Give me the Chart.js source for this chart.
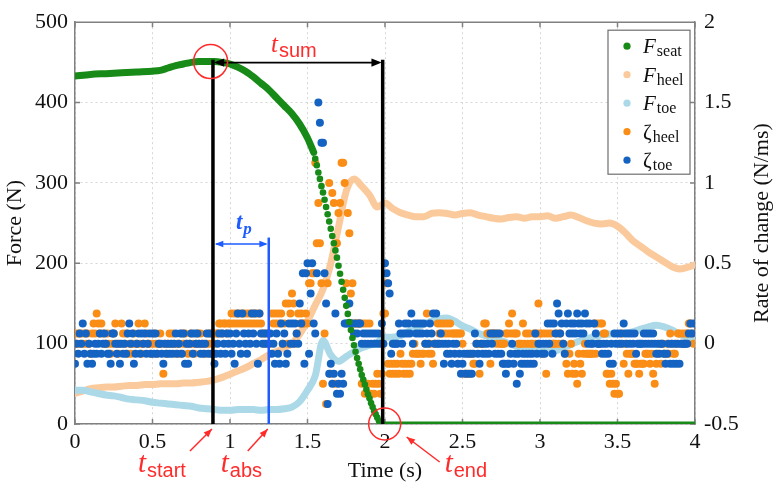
<!DOCTYPE html>
<html>
<head>
<meta charset="utf-8">
<script src="https://cdn.jsdelivr.net/npm/chart.js@4.4.0/dist/chart.umd.min.js"></script>
<style>
  html, body { margin: 0; padding: 0; background: #fff; }
  #wrap { width: 773px; height: 490px; }
</style>
</head>
<body>
<div id="wrap"><canvas id="chart" width="773" height="490"></canvas></div>
<script>
// ---- data ----
// F_seat: smooth part drawn as a thick line, steep part as single samples, then flat at 0
const seatCurveT = [0, 0.1, 0.2, 0.3, 0.4, 0.5, 0.55, 0.6, 0.65, 0.7, 0.75, 0.8, 0.85, 0.9, 0.95, 1.0, 1.05, 1.1, 1.15, 1.2, 1.25, 1.3, 1.35, 1.4, 1.45, 1.5, 1.54];
const seatCurveF = [433, 435, 436, 437, 438, 439, 440, 443, 446, 448, 450, 451, 451, 451, 450, 448, 444, 439, 432, 424, 416, 406, 396, 386, 373, 356, 338];
const SEAT_DOT_T0 = 1.55, SEAT_DOT_DT = 0.01;
const seatDotF = [330, 322, 313, 305, 296, 288, 279, 270, 261, 252, 243, 234, 225, 216, 207, 197, 187, 177, 167, 157,
                  147, 137, 127, 117, 107, 98, 90, 82, 75, 68, 61, 55, 49, 43, 37, 32, 26, 21, 16, 12, 8, 4, 1];
const seatFlatT = [1.97, 4.0];
const seatFlatF = [0, 0];

// F_heel / F_toe sampled every 0.05 s
const BAND_DT = 0.05;
const heelF = [38, 41, 44, 45, 46, 46, 47, 48, 48, 49, 49, 50, 50, 50, 51, 51, 52, 53, 55, 58,
               62, 66, 70, 75, 80, 86, 90, 95, 100, 112, 128, 148, 168, 200, 245, 290, 305, 296, 285, 270,
               275, 268, 263, 260, 258, 258, 262, 263, 262, 260, 262, 263, 260, 258, 256, 255, 257, 258, 256, 258,
               258, 259, 256, 258, 260, 257, 253, 250, 249, 250, 246, 238, 228, 221, 214, 208, 202, 196, 193, 195,
               198];
const toeF = [42, 42, 40, 38, 36, 35, 33, 31, 30, 29, 27, 26, 25, 24, 23, 22, 20, 19, 18, 17,
              17, 18, 18, 18, 17, 18, 18, 19, 21, 28, 42, 60, 104, 86, 78, 84, 90, 95, 98, 102,
              108, 108, 110, 115, 120, 124, 128, 131, 132, 128, 122, 118, 113, 110, 107, 104, 100, 97, 94, 92,
              91, 90, 91, 95, 99, 103, 106, 109, 111, 112, 113, 113, 115, 118, 121, 123, 121, 117, 112, 108,
              106];

// rates of change, every 0.01 s, in steps of 1/16 N/ms
const ZETA_DT = 0.01, RATE_STEP = 0.0625;
const zetaToeK = [
  -2,0,-1,1,0,2,-1,1,-2,0,   -1,-2,-1,0,-1,0,1,-1,0,1,   0,-1,-1,-2,1,1,0,-1,0,-2,   0,-1,0,-1,1,2,0,1,-2,-1,
  0,1,-1,1,0,1,-1,0,1,-1,    1,-1,1,-1,0,0,-1,-2,0,-1,   0,-1,0,-1,0,1,-1,0,1,-1,    1,-2,0,-2,0,1,-1,1,0,1,
  0,-1,0,-1,0,1,-1,1,-1,-1,  -2,-1,0,1,-1,1,0,-1,1,0,    1,-1,0,-2,1,3,0,-1,3,1,     0,-1,1,0,3,1,3,0,-2,3,
  1,0,1,0,1,0,1,-1,0,-2,     1,-1,-2,2,0,1,-2,-1,2,0,    2,0,2,1,0,4,2,7,-2,7,       8,-1,5,8,2,1,7,24,22,20,
  20,7,4,-6,-3,-2,-4,-3,3,-5, -4,-5,-3,-4,2,2,2,4,2,2,   1,2,1,2,2,0,1,0,1,0,        1,0,1,0,1,0,1,0,2,0,
  8,7,6,5,-1,0,0,0,0,2,      1,0,1,2,1,2,1,3,0,2,        1,2,1,2,1,2,0,1,0,2,        1,3,0,3,0,0,1,0,-2,0,
  -1,0,-1,-2,0,-1,0,-2,-1,-3, -2,-1,-3,-1,-3,-1,-3,-1,1,0, -1,-2,0,-1,0,-1,0,-1,1,0, 1,-1,1,-1,1,-1,-2,-2,-3,-2,
  -2,-1,0,-2,-1,-4,-1,-3,-2,-1, -2,-1,-2,-1,-2,-1,-2,1,-1,0, 0,-1,0,-1,0,2,0,2,-1,2, 1,4,3,1,2,0,-1,2,3,1,
  2,1,2,1,3,2,1,2,1,3,       2,0,2,0,0,2,1,0,0,0,        -1,0,-1,0,-1,-2,0,-2,1,0,   1,0,1,0,2,1,0,1,0,1,
  0,1,-1,0,0,0,0,1,0,1,      0,1,0,1,0,-1,0,-1,0,0,      -1,-2,-1,0,-2,0,-2,0,-2,0,  -2,0,0,0,0,0,1,2,1,2
];
const zetaHeelK = [
  1,0,1,0,1,0,1,0,1,0,       -1,1,2,1,3,2,1,2,1,0,       0,1,0,-1,0,1,2,0,-1,0,      2,1,0,1,-1,0,-1,0,1,0,
  0,2,0,-1,0,2,1,0,0,-1,     0,1,0,-1,0,1,0,-3,0,-1,     0,1,0,1,0,-1,0,0,-1,1,      0,1,0,-1,0,1,0,-1,0,1,
  0,1,0,0,-1,0,1,0,1,1,      0,1,1,2,2,1,2,2,1,2,        2,3,2,3,2,3,2,3,2,3,        2,3,2,3,2,3,2,3,2,3,
  2,1,0,1,0,1,0,3,2,3,       2,3,2,3,0,2,4,0,4,3,        5,4,0,1,3,2,3,2,2,3,        2,6,6,7,7,18,10,14,10,6,
  -4,1,-6,6,16,-3,15,14,-4,10, 13,14,18,18,16,6,13,11,5,6, 2,2,2,2,2,-4,2,-5,2,-4,   2,-5,-4,-5,-4,-3,-4,-5,-3,3,
  3,6,-2,-3,-2,-3,-2,-3,-2,-3, -1,-2,-3,-2,-3,-2,-3,-2,-1,0, -1,-1,-1,-2,-1,-1,0,3,-1,0, -1,-2,0,0,2,1,2,1,2,1,
  2,1,2,1,1,1,1,1,1,1,       0,-3,-3,-3,-1,-3,-1,-2,-2,0, 0,-3,0,0,2,2,1,1,-2,1,  1,1,0,1,0,0,0,0,1,1,
  2,1,3,1,1,1,0,0,0,2,       0,1,0,1,0,0,1,0,1,4,        1,1,-1,1,-3,1,0,1,0,0,      0,1,0,1,0,0,-1,-2,-3,-1,
  0,-3,-2,-3,-4,-1,-2,-3,-1,0, -1,-1,-1,-1,-1,2,-1,2,0,2, 2,1,1,-3,-3,-4,-3,-4,-5,-4, -5,-5,0,1,-2,0,-1,-3,-1,-1,
  -1,-2,-2,-2,-3,-2,-2,-2,-1,-1, -1,-2,-1,-3,-4,-2,-1,0,-2,0, -1,-1,0,-1,1,0,-1,-1,0,1, 1,0,1,0,1,1,2,2,1,0
];

// marked instants (s) and levels (N)
const T_START = 0.89, T_ABS = 1.25, T_END = 1.985;
const PEAK_T = 0.875, PEAK_F = 451;
const SUM_F = 452, TP_F = 224, TP_TOP_F = 232;

// ---- styles ----
const GREEN = '#178a17', HEEL_F = '#fbca9c', TOE_F = '#abd9e7', HEEL_Z = '#fa8d16', TOE_Z = '#1463c2';
const RED = '#ff2a2a', BLUE_MARK = '#1f5cff', AXIS = '#808080', INK = '#111';
const SERIF = '"Liberation Serif", "Times New Roman", serif';
const SANS = '"Liberation Sans", Arial, sans-serif';

function series(t0, dt, vals, scale) {
  return vals.map((v, i) => ({ x: Math.round((t0 + i * dt) * 1000) / 1000, y: v * (scale || 1) }));
}
function pairs(ts, vs) {
  return ts.map((t, i) => ({ x: t, y: vs[i] }));
}

function arrowHead(ctx, x1, y1, x2, y2, size, color) {
  const ang = Math.atan2(y2 - y1, x2 - x1);
  ctx.beginPath();
  ctx.moveTo(x2, y2);
  ctx.lineTo(x2 - size * Math.cos(ang - 0.38), y2 - size * Math.sin(ang - 0.38));
  ctx.lineTo(x2 - size * Math.cos(ang + 0.38), y2 - size * Math.sin(ang + 0.38));
  ctx.closePath();
  ctx.fillStyle = color;
  ctx.fill();
}

function segment(ctx, x1, y1, x2, y2, color, width) {
  ctx.beginPath();
  ctx.moveTo(x1, y1);
  ctx.lineTo(x2, y2);
  ctx.strokeStyle = color;
  ctx.lineWidth = width;
  ctx.stroke();
}

// text with a subscript, x is the left edge (or centre if center=true)
function subText(ctx, x, y, main, sub, color, mainFont, subFont, dy, center) {
  ctx.font = mainFont;
  const w1 = ctx.measureText(main).width;
  ctx.font = subFont;
  const w2 = ctx.measureText(sub).width;
  const x0 = center ? x - (w1 + w2 + 1) / 2 : x;
  ctx.fillStyle = color;
  ctx.textAlign = 'left';
  ctx.textBaseline = 'alphabetic';
  ctx.font = mainFont;
  ctx.fillText(main, x0, y);
  ctx.font = subFont;
  ctx.fillText(sub, x0 + w1 + 1, y + dy);
}

const overlay = {
  id: 'overlay',
  beforeDatasetsDraw(chart) {
    const { ctx, chartArea: a, scales: { x, y } } = chart;
    ctx.save();
    ctx.strokeStyle = AXIS;
    ctx.lineWidth = 1.5;
    ctx.beginPath();
    ctx.moveTo(a.left, a.top);
    ctx.lineTo(a.right, a.top);
    x.ticks.forEach(tk => {
      const p = x.getPixelForValue(tk.value);
      ctx.moveTo(p, a.top); ctx.lineTo(p, a.top + 5);
      ctx.moveTo(p, a.bottom); ctx.lineTo(p, a.bottom - 5);
    });
    y.ticks.forEach(tk => {
      const p = y.getPixelForValue(tk.value);
      ctx.moveTo(a.left, p); ctx.lineTo(a.left + 5, p);
      ctx.moveTo(a.right, p); ctx.lineTo(a.right - 5, p);
    });
    ctx.stroke();
    ctx.restore();
  },
  afterDatasetsDraw(chart) {
    const { ctx, chartArea: a, scales: { x, y } } = chart;
    const px = t => x.getPixelForValue(t);
    const py = f => y.getPixelForValue(f);
    ctx.save();

    // t_sum markers
    const xs = px(T_START), xe = px(T_END), xa = px(T_ABS);
    segment(ctx, xs, py(SUM_F) - 1, xs, py(0), '#000', 3.5);
    segment(ctx, xe, py(SUM_F) - 1, xe, py(0), '#000', 3.5);
    const ys = py(PEAK_F) + 1;
    segment(ctx, xs + 4, ys, xe - 4, ys, '#000', 1.8);
    arrowHead(ctx, xe - 20, ys, xe - 1, ys, 11, '#000');
    arrowHead(ctx, xs + 20, ys, xs + 1, ys, 11, '#000');
    subText(ctx, (xs + xe) / 2 - 4, ys - 11, 't', 'sum', RED,
            'italic 25px ' + SERIF, '20px ' + SANS, 5, true);

    // t_p marker
    segment(ctx, xa, py(TP_TOP_F), xa, py(0), BLUE_MARK, 2.5);
    const yp = py(TP_F);
    segment(ctx, xs + 3, yp, xa - 3, yp, BLUE_MARK, 1.5);
    arrowHead(ctx, xa - 15, yp, xa - 1, yp, 9, BLUE_MARK);
    arrowHead(ctx, xs + 15, yp, xs + 2, yp, 9, BLUE_MARK);
    subText(ctx, (xs + xa) / 2 + 3, yp - 15, 't', 'p', BLUE_MARK,
            'bold italic 23px ' + SERIF, 'bold italic 17px ' + SERIF, 5, true);

    // red circles
    ctx.strokeStyle = RED;
    ctx.lineWidth = 1.5;
    ctx.beginPath();
    ctx.arc(px(PEAK_T), py(PEAK_F), 17, 0, Math.PI * 2);
    ctx.stroke();
    ctx.beginPath();
    ctx.arc(xe + 2, py(0), 16, 0, Math.PI * 2);
    ctx.stroke();

    // bottom labels with arrows
    const yb = a.bottom;
    const lab = (tipX, tipY, tailX, tailY, lx, main, sub) => {
      segment(ctx, tailX, tailY, tipX, tipY, RED, 1.5);
      arrowHead(ctx, tailX, tailY, tipX, tipY, 9, RED);
      subText(ctx, lx, yb + 48, main, sub, RED, 'italic 29px ' + SERIF, '20px ' + SANS, 5, false);
    };
    lab(xs - 1, yb + 5, xs - 23, yb + 27, xs - 75, 't', 'start');
    lab(xa - 1, yb + 5, xa - 21, yb + 27, xa - 48, 't', 'abs');
    lab(xe + 24, yb + 13, xe + 57, yb + 38, xe + 62, 't', 'end');

    ctx.restore();
  },
  afterDraw(chart) {
    const { ctx, chartArea: a } = chart;
    ctx.save();

    // right axis title, reading bottom to top
    ctx.translate(762, (a.top + a.bottom) / 2);
    ctx.rotate(-Math.PI / 2);
    ctx.fillStyle = INK;
    ctx.font = '22px ' + SERIF;
    ctx.textAlign = 'center';
    ctx.textBaseline = 'middle';
    ctx.fillText('Rate of change (N/ms)', 0, 0);
    ctx.setTransform(1, 0, 0, 1, 0, 0);

    // legend
    const bx = a.right - 87, by = a.top + 8, bw = 82, bh = 144;
    ctx.fillStyle = '#fff';
    ctx.fillRect(bx, by, bw, bh);
    ctx.strokeStyle = '#6e6e6e';
    ctx.lineWidth = 1.2;
    ctx.strokeRect(bx, by, bw, bh);
    const entries = [
      { main: 'F', sub: 'seat', color: GREEN, italic: true },
      { main: 'F', sub: 'heel', color: HEEL_F, italic: true },
      { main: 'F', sub: 'toe', color: TOE_F, italic: true },
      { main: 'ζ', sub: 'heel', color: HEEL_Z, italic: false },
      { main: 'ζ', sub: 'toe', color: TOE_Z, italic: false }
    ];
    entries.forEach((e, i) => {
      const cy = by + 16 + i * 28.5;
      ctx.beginPath();
      ctx.arc(bx + 19, cy, 3.6, 0, Math.PI * 2);
      ctx.fillStyle = e.color;
      ctx.fill();
      subText(ctx, bx + 35, cy + 7, e.main, e.sub, INK,
              (e.italic ? 'italic ' : '') + '21px ' + SERIF, '16px ' + SERIF, 3, false);
    });
    ctx.restore();
  }
};

const tickFont = { family: SERIF, size: 22 };
const gridStyle = { color: '#d6d6d6', drawTicks: false };
const borderStyle = { color: AXIS, width: 1.5, dash: [2, 3] };

new Chart(document.getElementById('chart'), {
  type: 'scatter',
  data: {
    datasets: [
      { data: series(SEAT_DOT_T0, SEAT_DOT_DT, seatDotF), yAxisID: 'y',
        pointRadius: 3.3, pointBackgroundColor: GREEN, pointBorderWidth: 0 },
      { data: pairs(seatCurveT, seatCurveF), yAxisID: 'y', showLine: true,
        borderColor: GREEN, borderWidth: 7, pointRadius: 0, cubicInterpolationMode: 'monotone',
        borderCapStyle: 'round', borderJoinStyle: 'round' },
      { data: pairs(seatFlatT, seatFlatF), yAxisID: 'y', showLine: true,
        borderColor: GREEN, borderWidth: 5, pointRadius: 0 },
      { data: series(0, ZETA_DT, zetaToeK, RATE_STEP), yAxisID: 'y2',
        pointRadius: 4, pointBackgroundColor: TOE_Z, pointBorderWidth: 0 },
      { data: series(0, ZETA_DT, zetaHeelK, RATE_STEP), yAxisID: 'y2',
        pointRadius: 4, pointBackgroundColor: HEEL_Z, pointBorderWidth: 0 },
      { data: series(0, BAND_DT, toeF), yAxisID: 'y', showLine: true,
        borderColor: TOE_F, borderWidth: 7, pointRadius: 0, cubicInterpolationMode: 'monotone',
        borderCapStyle: 'round', borderJoinStyle: 'round' },
      { data: series(0, BAND_DT, heelF), yAxisID: 'y', showLine: true,
        borderColor: HEEL_F, borderWidth: 7, pointRadius: 0, cubicInterpolationMode: 'monotone',
        borderCapStyle: 'round', borderJoinStyle: 'round' }
    ]
  },
  options: {
    responsive: false,
    animation: false,
    events: [],
    layout: { padding: { top: 15, left: 0, right: 0, bottom: 0 } },
    plugins: { legend: { display: false }, tooltip: { enabled: false } },
    scales: {
      x: {
        type: 'linear', min: 0, max: 4,
        afterFit: s => { s.height = 66; },
        ticks: { stepSize: 0.5, autoSkip: false, maxRotation: 0, padding: 5, color: INK, font: tickFont,
                 callback: v => String(v) },
        grid: gridStyle, border: borderStyle,
        title: { display: true, text: 'Time (s)', color: INK, font: tickFont, padding: { top: 0, bottom: 6 } }
      },
      y: {
        position: 'left', min: 0, max: 500,
        afterFit: s => { s.width = 75; },
        ticks: { stepSize: 100, padding: 7, color: INK, font: tickFont },
        grid: gridStyle, border: borderStyle,
        title: { display: true, text: 'Force (N)', color: INK, font: tickFont, padding: { top: 2, bottom: 0 } }
      },
      y2: {
        position: 'right', min: -0.5, max: 2,
        afterFit: s => { s.width = 78; },
        ticks: { stepSize: 0.5, padding: 9, color: INK, font: tickFont, callback: v => String(v) },
        grid: { drawOnChartArea: false, drawTicks: false },
        border: { color: AXIS, width: 1.5 }
      }
    }
  },
  plugins: [overlay]
});
</script>
</body>
</html>
